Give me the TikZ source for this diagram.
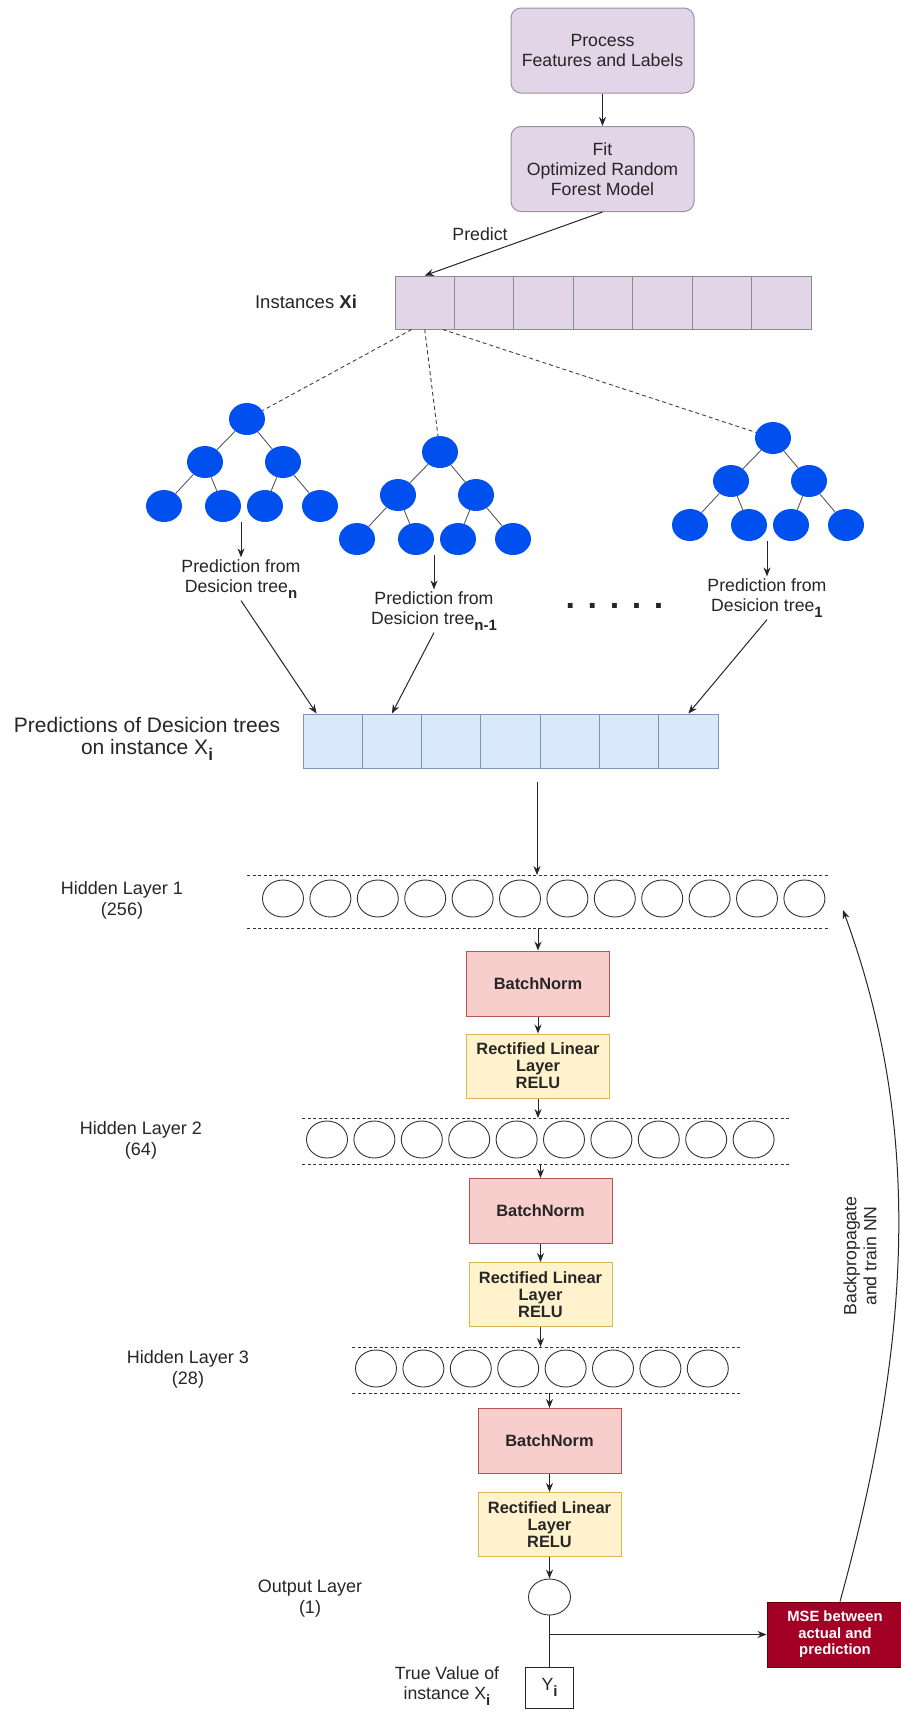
\documentclass[tikz,border=0pt]{standalone}
\usepackage{fontspec}
\setmainfont{Liberation Sans}
\usetikzlibrary{arrows.meta,calc,shapes.geometric}
\definecolor{lavfill}{HTML}{E1D5E7}
\definecolor{lavdraw}{HTML}{9D8FA5}
\definecolor{bluefill}{HTML}{DAE8FC}
\definecolor{bluedraw}{HTML}{7E95B8}
\definecolor{pinkfill}{HTML}{F8CECC}
\definecolor{pinkdraw}{HTML}{B85450}
\definecolor{yelfill}{HTML}{FFF2CC}
\definecolor{yeldraw}{HTML}{D6B656}
\definecolor{msefill}{HTML}{A20025}
\definecolor{msedraw}{HTML}{6F0000}
\definecolor{treeblue}{HTML}{0050EF}
\definecolor{txt}{HTML}{262626}
\newcommand{\sbb}[2][15]{\raisebox{-6pt}{\fontsize{#1}{#1}\selectfont\bfseries #2}}
\newcommand{\dtree}[3]{%
  \node[tnode] (#1r) at (#2,#3) {};
  \node[tnode] (#1a) at ({#2-42},{#3+43}) {};
  \node[tnode] (#1b) at ({#2+36},{#3+43}) {};
  \node[tnode] (#1c) at ({#2-83},{#3+87}) {};
  \node[tnode] (#1d) at ({#2-24},{#3+87}) {};
  \node[tnode] (#1e) at ({#2+18},{#3+87}) {};
  \node[tnode] (#1f) at ({#2+73},{#3+87}) {};
  \draw[tedge] (#1r) -- (#1a); \draw[tedge] (#1r) -- (#1b);
  \draw[tedge] (#1a) -- (#1c); \draw[tedge] (#1a) -- (#1d);
  \draw[tedge] (#1b) -- (#1e); \draw[tedge] (#1b) -- (#1f);
  \coordinate (#1x) at ({#2-6},{#3+103});
}
\begin{document}
\begin{tikzpicture}[x=1pt,y=-1pt,
  every node/.style={font=\fontsize{17.7}{20}\selectfont, text=txt},
  arr/.style={draw=black!85, line width=1pt, -{Stealth[length=9pt,width=7pt]}},
  tedge/.style={draw=black!65, line width=0.9pt},
  dl/.style={draw=black!75, line width=0.9pt, dash pattern=on 4pt off 3pt},
  lyr/.style={draw=black!80, line width=0.9pt, dash pattern=on 3pt off 2.5pt},
  procbox/.style={draw=lavdraw, fill=lavfill, rounded corners=10pt, minimum width=183pt, minimum height=85pt, align=center, line width=1pt},
  cellA/.style={draw=black!45, fill=lavfill, minimum width=59.43pt, minimum height=53pt, inner sep=0pt, line width=0.9pt},
  cellB/.style={draw=bluedraw, fill=bluefill, minimum width=59.29pt, minimum height=54pt, inner sep=0pt, line width=0.9pt},
  tnode/.style={ellipse, fill=treeblue, draw=none, minimum width=36pt, minimum height=32pt, inner sep=0pt},
  neuron/.style={ellipse, draw=black!80, fill=white, minimum width=41pt, minimum height=37pt, inner sep=0pt, line width=0.9pt},
  bnbox/.style={draw=pinkdraw, fill=pinkfill, minimum width=143pt, minimum height=65pt, line width=1pt, font=\bfseries\fontsize{16.4}{17}\selectfont},
  relubox/.style={draw=yeldraw, fill=yelfill, minimum width=143pt, minimum height=64pt, line width=1pt, align=center, font=\bfseries\fontsize{16.4}{17}\selectfont},
  msebox/.style={draw=msedraw, fill=msefill, text=white, minimum width=136pt, minimum height=65pt, align=center, line width=1pt, font=\bfseries\fontsize{14.8}{16.5}\selectfont},
  lbl/.style={align=center, inner sep=2pt},
  hlbl/.style={align=center, inner sep=2pt, font=\fontsize{18}{21}\selectfont}
]
\fill[white] (0,0) rectangle (901,1711);
\path[use as bounding box] (0,0) rectangle (901,1711);

% top boxes
\node[procbox] (proc) at (602.5,50.5) {Process\\Features and Labels};
\node[procbox] (fit) at (602.5,169) {Fit\\Optimized Random\\Forest Model};
\draw[arr] (proc) -- (fit);

% instances bar
\foreach \i in {0,...,6} \node[cellA] (a\i) at ({424.7+59.43*\i},302.5) {};
\node[font=\fontsize{18.5}{20}\selectfont] (inst) at (306,302) {Instances \textbf{Xi}};
\draw[arr] (fit.south) -- (a0.north);
\node (pred) at (480,234) {Predict};

% trees
\dtree{tn}{247}{419}
\dtree{tm}{440}{452}
\dtree{to}{773}{438}
\draw[dl] ($(a0.south)+(-13,0)$) -- (tnr);
\draw[dl] (a0.south) -- (tmr);
\draw[dl] ($(a0.south)+(18,0)$) -- (tor);

\node[lbl] (labn) at (241,579) {Prediction from\\Desicion tree\sbb{n}};
\node[lbl] (labm) at (434,611) {Prediction from\\Desicion tree\sbb{n-1}};
\node[lbl] (labo) at (767,598) {Prediction from\\Desicion tree\sbb{1}};
\draw[arr] (tnx) -- (tnx |- labn.north);
\draw[arr] (tmx) -- (tmx |- labm.north);
\draw[arr] (tox) -- (tox |- labo.north);
\node[font=\bfseries\fontsize{34}{34}\selectfont, anchor=base, inner sep=0pt] (dots) at (614.5,608) {. . . . .};

% predictions bar
\foreach \i in {0,...,6} \node[cellB] (b\i) at ({332.6+59.29*\i},741) {};
\node[lbl, font=\fontsize{21}{22}\selectfont] (plbl) at (147,739) {Predictions of Desicion trees\\on instance X\sbb[17]{i}};
\draw[arr] (labn.south) -- ($(b0.north)+(-16,0)$);
\draw[arr] (labm.south) -- (b1.north);
\draw[arr] (labo.south) -- (b6.north);

% hidden layer 1
\coordinate (l1a) at (247,875); \coordinate (l1b) at (830,875);
\coordinate (l1c) at (247,928); \coordinate (l1d) at (830,928);
\draw[lyr] (l1a) -- (l1b); \draw[lyr] (l1c) -- (l1d);
\foreach \i in {0,...,11} \node[neuron] (h1-\i) at ({283+47.4*\i},898.5) {};
\node[hlbl] (hl1) at (122,900.5) {Hidden Layer 1\\(256)};
\coordinate (v0) at (537,782);
\draw[arr] (v0) -- (v0 |- l1a);

\node[bnbox] (bn1) at (538,983.5) {BatchNorm};
\node[relubox] (re1) at (538,1066) {Rectified Linear\\Layer\\RELU};
\draw[arr] (bn1.north |- l1c) -- (bn1.north);
\draw[arr] (bn1) -- (re1);

% hidden layer 2
\coordinate (l2a) at (302,1118); \coordinate (l2b) at (790,1118);
\coordinate (l2c) at (302,1164); \coordinate (l2d) at (790,1164);
\draw[lyr] (l2a) -- (l2b); \draw[lyr] (l2c) -- (l2d);
\foreach \i in {0,...,9} \node[neuron] (h2-\i) at ({327+47.4*\i},1139.5) {};
\node[hlbl] (hl2) at (141,1140.5) {Hidden Layer 2\\(64)};
\draw[arr] (re1.south) -- (re1.south |- l2a);

\node[bnbox] (bn2) at (540.5,1211) {BatchNorm};
\node[relubox] (re2) at (540.5,1294.5) {Rectified Linear\\Layer\\RELU};
\draw[arr] (bn2.north |- l2c) -- (bn2.north);
\draw[arr] (bn2) -- (re2);

% hidden layer 3
\coordinate (l3a) at (352,1347); \coordinate (l3b) at (740,1347);
\coordinate (l3c) at (352,1393); \coordinate (l3d) at (740,1393);
\draw[lyr] (l3a) -- (l3b); \draw[lyr] (l3c) -- (l3d);
\foreach \i in {0,...,7} \node[neuron] (h3-\i) at ({376+47.4*\i},1368.5) {};
\node[hlbl] (hl3) at (188,1369) {Hidden Layer 3\\(28)};
\draw[arr] (re2.south) -- (re2.south |- l3a);

\node[bnbox] (bn3) at (549.5,1441) {BatchNorm};
\node[relubox] (re3) at (549.5,1524.5) {Rectified Linear\\Layer\\RELU};
\draw[arr] (bn3.north |- l3c) -- (bn3.north);
\draw[arr] (bn3) -- (re3);

% output
\node[neuron, minimum width=42pt, minimum height=36pt] (out) at (549.5,1597) {};
\node[hlbl] (olbl) at (310,1598.5) {Output Layer\\(1)};
\draw[arr] (re3) -- (out);
\node[draw=black!85, fill=white, line width=1pt, minimum width=48pt, minimum height=41pt, inner sep=0pt] (yb) at (549.5,1687.5) {Y\sbb{i}};
\node[lbl] (tv) at (447,1686.5) {True Value of\\instance X\sbb{i}};
\draw[draw=black!85, line width=1pt] (out) -- (yb);
\node[msebox] (mse) at (835,1634.5) {MSE between\\actual and\\prediction};
\draw[arr] (out.south |- mse.west) -- (mse.west);

% backpropagation
\coordinate (bpend) at (843,910);
\draw[arr] ($(mse.north)+(5,0)$) .. controls (915,1330) and (920,1120) .. (bpend);
\node[align=center, rotate=90, inner sep=0pt] (bp) at (860,1256) {Backpropagate\\and train NN};
\end{tikzpicture}
\end{document}
